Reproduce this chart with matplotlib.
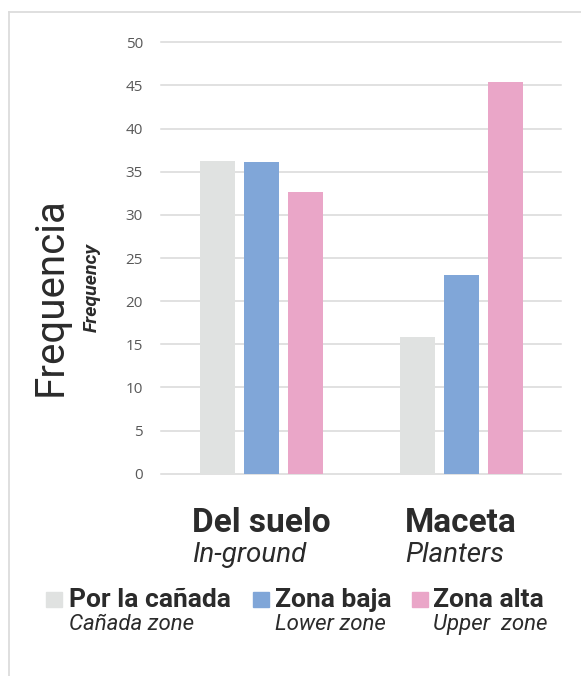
import numpy as np
import matplotlib
matplotlib.use('Agg')
import matplotlib.pyplot as plt
from matplotlib.lines import Line2D
from matplotlib.patches import Rectangle

# categories and series
groups_es = ['Del suelo', 'Maceta']
groups_en = ['In-ground', 'Planters']
series_es = ['Por la cañada', 'Zona baja', 'Zona alta']
series_en = ['Cañada zone', 'Lower zone', 'Upper  zone']
vals_canada = [36.2, 15.8]
vals_baja = [36.1, 23.0]
vals_alta = [32.7, 45.4]
yticks = [0, 5, 10, 15, 20, 25, 30, 35, 40, 45, 50]

colors = ['#e0e2e1', '#80a6d8', '#eaa6c8']
dark = '#2b2b2b'
W, H = 581, 676

def px(x, y):
    return x / W, 1 - y / H

fig = plt.figure(figsize=(W / 100, H / 100), dpi=100)
fig.patch.set_facecolor('white')

# thin outer frame (left and top)
fig.add_artist(Line2D([9 / W, 9 / W], [0, 1 - 12 / H], color='#dcdcdc', lw=1.3))
fig.add_artist(Line2D([9 / W, 1], [1 - 12 / H, 1 - 12 / H], color='#dcdcdc', lw=1.3))

y0, y50 = 473.7, 42.3
ax = fig.add_axes([161 / W, 1 - y0 / H, 400 / W, (y0 - y50) / H])
ax.set_xlim(-0.5, 1.5)
ax.set_ylim(0, 50)
for s in ax.spines.values():
    s.set_visible(False)

x = np.arange(len(groups_es))
off = 0.22
bw = 0.175
for vals, c, k in zip([vals_canada, vals_baja, vals_alta], colors, [-1, 0, 1]):
    ax.bar(x + k * off, vals, bw, color=c, zorder=3)

ax.set_axisbelow(True)
ax.yaxis.grid(True, color='#d9d9d9', lw=1.1)
for gl in ax.get_ygridlines():
    gl.set_clip_on(False)

ax.set_xticks([])
ax.set_yticks(yticks)
ax.set_yticklabels([str(t) for t in yticks], fontsize=11, color='#595959', family='Open Sans')
ax.tick_params(axis='y', length=0, pad=13)

# category labels: bold centered, english italic left-aligned beneath
ppu = (y0 - y50) / 50
for xi, es, en in zip(x, groups_es, groups_en):
    t = ax.text(xi, -(532 - y0) / ppu, es, ha='center', va='baseline', fontsize=24,
                fontweight='bold', color=dark, family='Roboto', clip_on=False)
    ax.annotate(en, xy=(0, -(562 - y0) / ppu), xycoords=(t, 'data'),
                ha='left', va='baseline', fontsize=20, style='italic', color=dark,
                family='Roboto', annotation_clip=False)

# y axis titles
fig.text(*px(62, 297), 'Frequencia', rotation=90, rotation_mode='anchor', ha='center',
         va='baseline', fontsize=29, color=dark, family='Roboto')
fig.text(*px(97, 288), 'Frequency', rotation=90, rotation_mode='anchor', ha='center',
         va='baseline', fontsize=14, fontweight='bold', style='italic', color=dark,
         family='Roboto')

# legend
leg_sq = [46, 253, 412]
leg_tx = [69, 275, 433]
for sx, tx, es, en, c in zip(leg_sq, leg_tx, series_es, series_en, colors):
    fig.add_artist(Rectangle(px(sx, 607), 16 / W, 15 / H, color=c, transform=fig.transFigure))
    fig.text(*px(tx, 607), es, ha='left', va='baseline', fontsize=19, fontweight='bold',
             color=dark, family='Roboto')
    fig.text(*px(tx, 630), en, ha='left', va='baseline', fontsize=16, style='italic',
             color=dark, family='Roboto')

fig.savefig('out.png', dpi=100)
